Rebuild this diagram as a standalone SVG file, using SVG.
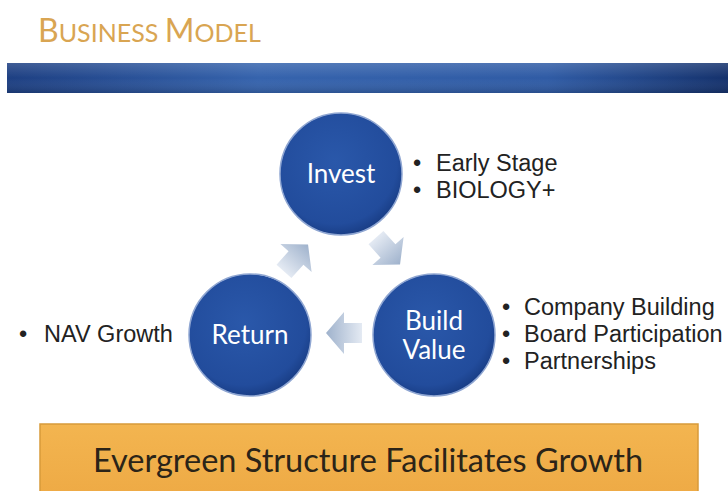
<svg xmlns="http://www.w3.org/2000/svg" width="728" height="491" viewBox="0 0 728 491">
<style>
.title{font-family:Lato,"Open Sans",sans-serif;fill:#D9A552;}
.ctext{font-family:Lato,"Open Sans",sans-serif;font-size:26px;fill:#ffffff;text-anchor:middle;}
.bul{font-family:"Liberation Sans",Arial,sans-serif;font-size:23.5px;fill:#222222;}
.bar{font-family:Lato,"Open Sans",sans-serif;font-size:32.5px;fill:#2b2418;text-anchor:middle;}
.circ{fill:url(#cg);stroke:#8fa6d2;stroke-width:1.5;}
.arr{fill:url(#ag);}
</style>
<defs>
<linearGradient id="band" x1="0" y1="0" x2="1" y2="0">
<stop offset="0" stop-color="#1d3f82"/>
<stop offset="0.35" stop-color="#3563ad"/>
<stop offset="0.75" stop-color="#2f5ba5"/>
<stop offset="1" stop-color="#14316c"/>
</linearGradient>
<linearGradient id="bandv" x1="0" y1="0" x2="0" y2="1">
<stop offset="0" stop-color="#ffffff" stop-opacity="0.15"/>
<stop offset="0.5" stop-color="#ffffff" stop-opacity="0"/>
<stop offset="1" stop-color="#000000" stop-opacity="0.15"/>
</linearGradient>
<radialGradient id="cg" cx="0.45" cy="0.4" r="0.6">
<stop offset="0" stop-color="#2a58aa"/>
<stop offset="0.85" stop-color="#224c9c"/>
<stop offset="1" stop-color="#1a3f88"/>
</radialGradient>
<linearGradient id="ag" x1="0" y1="0" x2="1" y2="0">
<stop offset="0" stop-color="#e4eaf3"/>
<stop offset="1" stop-color="#9fb2cc"/>
</linearGradient>
<linearGradient id="og" x1="0" y1="0" x2="0" y2="1">
<stop offset="0" stop-color="#f3b550"/>
<stop offset="1" stop-color="#eeaa45"/>
</linearGradient>
<path id="arrow" d="M-18,-10 L0,-10 L0,-21 L18,0 L0,21 L0,10 L-18,10 Z"/>
</defs>
<rect width="728" height="491" fill="#ffffff"/>
<g id="title">
<text class="title" x="38" y="42"><tspan font-size="32">B</tspan><tspan font-size="25">USINESS </tspan><tspan font-size="32">M</tspan><tspan font-size="25">ODEL</tspan></text>
</g>
<g id="band">
<rect x="7" y="63" width="721" height="30" fill="url(#band)"/>
<rect x="7" y="63" width="721" height="30" fill="url(#bandv)"/>
</g>
<g id="connectors">
<use href="#arrow" class="arr" transform="translate(296,258) rotate(-48)"/>
<use href="#arrow" class="arr" transform="translate(388,251) rotate(48)"/>
<use href="#arrow" class="arr" transform="translate(344,333) rotate(180)"/>
</g>
<g id="invest">
<circle class="circ" cx="341" cy="174" r="61"/>
<text class="ctext" x="341" y="183">Invest</text>
</g>
<g id="build-value">
<circle class="circ" cx="434" cy="335" r="61"/>
<text class="ctext" x="434" y="330">Build</text>
<text class="ctext" x="434" y="359">Value</text>
</g>
<g id="return">
<circle class="circ" cx="250" cy="335" r="61"/>
<text class="ctext" x="250" y="344">Return</text>
</g>
<g id="invest-notes">
<text class="bul" x="413" y="171">•</text><text class="bul" x="436" y="171">Early Stage</text>
<text class="bul" x="413" y="198">•</text><text class="bul" x="436" y="198">BIOLOGY+</text>
</g>
<g id="return-notes">
<text class="bul" x="19" y="342">•</text><text class="bul" x="44" y="342">NAV Growth</text>
</g>
<g id="build-notes">
<text class="bul" x="502" y="315">•</text><text class="bul" x="524" y="315">Company Building</text>
<text class="bul" x="502" y="342">•</text><text class="bul" x="524" y="342">Board Participation</text>
<text class="bul" x="502" y="369">•</text><text class="bul" x="524" y="369">Partnerships</text>
</g>
<g id="bottom-bar">
<rect x="40" y="424" width="658" height="72" fill="url(#og)" stroke="#d89a3a" stroke-width="1.5"/>
<text class="bar" x="368" y="472">Evergreen Structure Facilitates Growth</text>
</g>
</svg>
